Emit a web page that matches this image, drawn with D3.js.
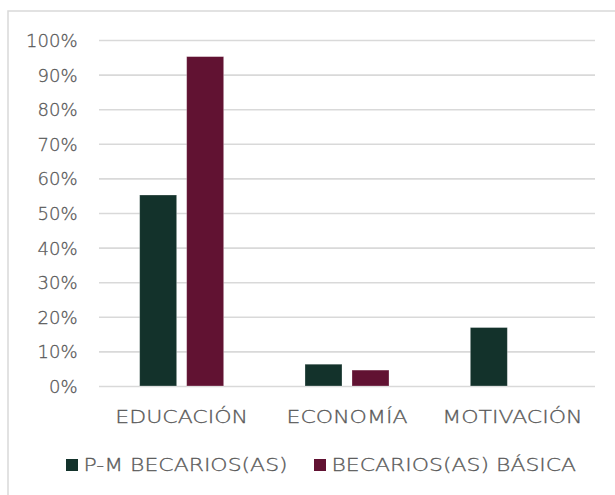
<!DOCTYPE html>
<html><head><meta charset="utf-8">
<script src="https://cdn.jsdelivr.net/npm/d3@7"></script>
<style>
html,body{margin:0;padding:0;background:#fff;}
</style></head>
<body>
<svg id="chart" width="615" height="495"></svg>
<script>
const categories = ["EDUCACIÓN", "ECONOMÍA", "MOTIVACIÓN"];
const seriesNames = ["P-M BECARIOS(AS)", "BECARIOS(AS) BÁSICA"];
const seriesPM = [0.552, 0.063, 0.169];
const seriesBasica = [0.952, 0.046, 0];
const yTicks = [0, 0.1, 0.2, 0.3, 0.4, 0.5, 0.6, 0.7, 0.8, 0.9, 1.0];
const colors = ["#13322B", "#611232"];

const FONT = "'DejaVu Sans', sans-serif";
const textStyle = sel => sel.style("font-family", FONT).style("font-weight", 200)
  .style("font-size", "18px").style("fill", "#595959")
  .style("stroke", "#595959").style("stroke-width", 0.3);

const svg = d3.select("#chart");

svg.append("rect").attr("x", 8).attr("y", 11).attr("width", 620).attr("height", 500)
  .attr("fill", "#fff").attr("stroke", "#d9d9d9").attr("stroke-width", 1.5);

const y = d3.scaleLinear().domain([0, 1]).range([386, 40]);
const x0 = d3.scaleBand().domain(categories).range([99, 595]).padding(0);
const x1 = d3.scaleBand().domain(seriesNames).range([0, x0.bandwidth()])
  .paddingInner(0.2128).paddingOuter(0.865);

const yAxis = d3.axisLeft(y).tickValues(yTicks).tickSize(-(595 - 99)).tickFormat(d3.format(".0%"));
const gy = svg.append("g").attr("transform", "translate(99,0)").call(yAxis);
gy.select(".domain").remove();
gy.selectAll(".tick line").attr("stroke", "#d9d9d9").attr("stroke-width", 1.6);
gy.selectAll(".tick text").attr("x", -21.5).attr("dy", "0.36em").call(textStyle);

const data = categories.map((c, i) => ({cat: c, vals: [seriesPM[i], seriesBasica[i]]}));
const groups = svg.append("g").selectAll("g").data(data).join("g")
  .attr("transform", d => `translate(${x0(d.cat)},0)`);
groups.selectAll("rect").data(d => d.vals.map((v, j) => ({v, s: seriesNames[j], j})))
  .join("rect")
  .filter(d => d.v > 0)
  .attr("x", d => x1(d.s))
  .attr("width", x1.bandwidth())
  .attr("y", d => y(d.v))
  .attr("height", d => y(0) - y(d.v))
  .attr("fill", d => colors[d.j])
  .attr("stroke", "#ffffff").attr("stroke-opacity", 0.35).attr("stroke-width", 0.8);

const xAxis = d3.axisBottom(x0).tickSize(0).tickPadding(0);
const gx = svg.append("g").attr("transform", "translate(0,386)").call(xAxis);
gx.select(".domain").remove();
gx.selectAll(".tick text").attr("y", 37).attr("dy", 0)
  .attr("transform", "scale(1.225,1)")
  .call(textStyle);

const legX = [66, 314];
const leg = svg.append("g").selectAll("g").data(seriesNames).join("g")
  .attr("transform", (d, i) => `translate(${legX[i]},459)`);
leg.append("rect").attr("width", 12).attr("height", 12).attr("fill", (d, i) => colors[i]);
leg.append("g").attr("transform", "translate(17.5,0) scale(1.22,1)")
  .append("text").attr("x", 0).attr("y", 12.3).text(d => d)
  .call(textStyle);
</script>
</body></html>
